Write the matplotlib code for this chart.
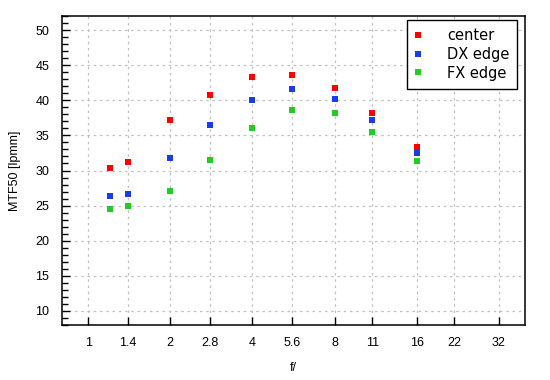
import matplotlib
matplotlib.use("Agg")
import matplotlib.pyplot as plt
from matplotlib.ticker import FixedLocator, NullLocator, MultipleLocator

plt.rcParams['font.family'] = ['Liberation Sans', 'DejaVu Sans']

apertures = [1.2, 1.4, 2, 2.8, 4, 5.6, 8, 11, 16]
center = [30.4, 31.2, 37.2, 40.7, 43.3, 43.6, 41.7, 38.2, 33.3]
dx_edge = [26.4, 26.7, 31.8, 36.5, 40.0, 41.6, 40.2, 37.2, 32.5]
fx_edge = [24.5, 25.0, 27.1, 31.5, 36.0, 38.6, 38.2, 35.5, 31.4]
xtick_vals = [1, 1.4, 2, 2.8, 4, 5.6, 8, 11, 16, 22, 32]
xtick_labels = ["1", "1.4", "2", "2.8", "4", "5.6", "8", "11", "16", "22", "32"]
series_names = ["center", "DX edge", "FX edge"]
colors = ["#ff0000", "#1a3de6", "#22cc22"]

fig = plt.figure(figsize=(5.5, 3.8), dpi=100)
ax = fig.add_axes([61.7/550, 1-325/380, (525.3-61.7)/550, (325-16)/380])

for vals, name, c in zip([center, dx_edge, fx_edge], series_names, colors):
    ax.plot(apertures, vals, linestyle='none', marker='s', markersize=5,
            markeredgewidth=0, color=c, label=name)

ax.set_xscale('log')
ax.set_xlim(0.8, 40)
ax.set_ylim(8, 52)
ax.xaxis.set_major_locator(FixedLocator(xtick_vals))
ax.set_xticklabels(xtick_labels)
ax.xaxis.set_minor_locator(NullLocator())
ax.yaxis.set_major_locator(MultipleLocator(5))
ax.yaxis.set_minor_locator(MultipleLocator(1))
ax.set_yticks(range(10, 51, 5))

ax.tick_params(axis='both', which='both', direction='in', top=False, right=False,
               labelsize=9, colors='black')
ax.tick_params(axis='y', which='major', length=6, width=1, pad=9)
ax.tick_params(axis='y', which='minor', length=4, width=1)
ax.tick_params(axis='x', which='major', length=6, width=1, pad=9)

ax.grid(True, which='major', color='#c0c0c0', linestyle=(0, (2, 3)), linewidth=0.9)
ax.set_axisbelow(True)
for s in ax.spines.values():
    s.set_linewidth(1.1)
    s.set_color('black')

ax.set_xlabel("f/", fontsize=9, labelpad=9)
ax.set_ylabel("MTF50 [lpmm]", fontsize=9)
ax.yaxis.set_label_coords(-0.088, 0.5)

leg = ax.legend(loc='upper right', bbox_to_anchor=((517.3-61.7)/463.6, (325-19.7)/309),
                prop={'family': 'DejaVu Sans', 'size': 10.5}, frameon=True,
                fancybox=False, edgecolor='black', framealpha=1,
                handlelength=0.45, handletextpad=1.74, borderpad=0.55,
                labelspacing=0.27, borderaxespad=0)
leg.get_frame().set_linewidth(1.0)

fig.savefig("out.png", dpi=100)
